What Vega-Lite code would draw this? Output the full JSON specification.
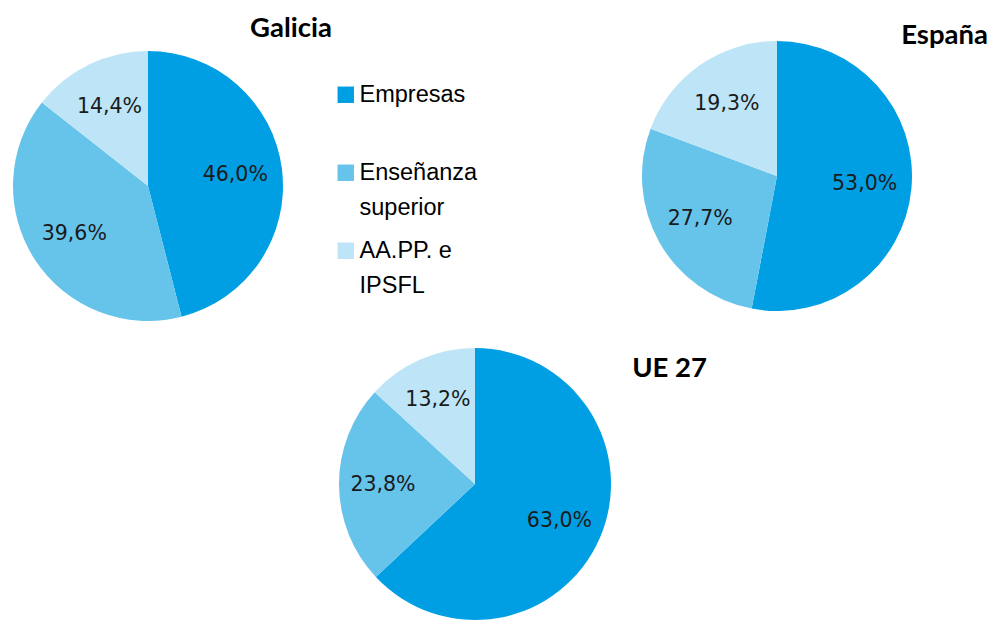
{
  "$schema": "https://vega.github.io/schema/vega-lite/v6.json",
  "background": "white",
  "padding": 0,
  "config": {
    "view": {"stroke": null},
    "locale": {"number": {"decimal": ",", "thousands": ".", "grouping": [3], "currency": ["", " €"]}}
  },
  "data": {
    "values": [
      {"region": "Galicia", "cat": "Empresas", "orden": 1, "value": 0.46},
      {"region": "Galicia", "cat": "Enseñanza superior", "orden": 2, "value": 0.396},
      {"region": "Galicia", "cat": "AA.PP. e IPSFL", "orden": 3, "value": 0.144},
      {"region": "España", "cat": "Empresas", "orden": 1, "value": 0.53},
      {"region": "España", "cat": "Enseñanza superior", "orden": 2, "value": 0.277},
      {"region": "España", "cat": "AA.PP. e IPSFL", "orden": 3, "value": 0.193},
      {"region": "UE 27", "cat": "Empresas", "orden": 1, "value": 0.63},
      {"region": "UE 27", "cat": "Enseñanza superior", "orden": 2, "value": 0.238},
      {"region": "UE 27", "cat": "AA.PP. e IPSFL", "orden": 3, "value": 0.132}
    ]
  },
  "spacing": 0,
  "vconcat": [
    {
      "bounds": "flush",
      "spacing": 345,
      "hconcat": [
        {
          "width": 296,
          "height": 348,
          "title": {"text": "Galicia", "anchor": "end", "frame": "group", "orient": "top", "offset": 0, "baseline": "alphabetic", "dx": 36, "dy": 64, "font": "Lato", "fontWeight": "bold", "fontSize": 27.5, "color": "#000000"},
          "transform": [{"filter": "datum.region == 'Galicia'"}],
          "encoding": {
            "theta": {"field": "value", "type": "quantitative", "stack": true},
            "order": {"field": "orden", "type": "quantitative"}
          },
          "layer": [
            {
              "mark": {"type": "arc", "outerRadius": 135, "yOffset": 12},
              "encoding": {
                "color": {
                  "field": "cat", "type": "nominal",
                  "scale": {"domain": ["Empresas", "Enseñanza superior", "AA.PP. e IPSFL"], "range": ["#009FE3", "#66C3EA", "#BDE5F7"]},
                  "legend": {
                    "orient": "none", "legendX": 334, "legendY": 83, "title": null,
                    "symbolType": "square", "symbolSize": 270, "symbolStrokeWidth": 0,
                    "labelFont": "Liberation Sans", "labelFontSize": 23.5, "labelColor": "#000000",
                    "labelOffset": 2, "labelLimit": 300, "rowPadding": 18, "gridAlign": "all", "padding": 0,
                    "labelBaseline": "alphabetic",
                    "labelExpr": "datum.label == 'Enseñanza superior' ? ['Enseñanza', 'superior'] : datum.label == 'AA.PP. e IPSFL' ? ['AA.PP. e', 'IPSFL'] : datum.label",
                    "encode": {"labels": {"update": {"dy": {"value": 7}, "lineHeight": {"value": 35}}}}
                  }
                }
              }
            },
            {
              "mark": {"type": "text", "radius": 88, "yOffset": 12, "font": "DejaVu Sans", "fontSize": 20.5, "fill": "#1a1a1a"},
              "encoding": {
                "detail": {"field": "cat", "type": "nominal"},
                "text": {"field": "value", "type": "quantitative", "format": ".1%"}
              }
            }
          ]
        },
        {
          "width": 272,
          "height": 348,
          "title": {"text": "España", "anchor": "end", "frame": "group", "orient": "top", "offset": 0, "baseline": "alphabetic", "dx": 75, "dy": 71, "font": "Lato", "fontWeight": "bold", "fontSize": 27.5, "color": "#000000"},
          "transform": [{"filter": "datum.region == 'España'"}],
          "encoding": {
            "theta": {"field": "value", "type": "quantitative", "stack": true},
            "order": {"field": "orden", "type": "quantitative"}
          },
          "layer": [
            {
              "mark": {"type": "arc", "outerRadius": 135, "yOffset": 2},
              "encoding": {
                "color": {"field": "cat", "type": "nominal"}
              }
            },
            {
              "mark": {"type": "text", "radius": 88, "yOffset": 2, "font": "DejaVu Sans", "fontSize": 20.5, "fill": "#1a1a1a"},
              "encoding": {
                "detail": {"field": "cat", "type": "nominal"},
                "text": {"field": "value", "type": "quantitative", "format": ".1%"}
              }
            }
          ]
        }
      ]
    },
    {
      "width": 950,
      "height": 272,
      "title": {"text": "UE 27", "anchor": "end", "frame": "group", "orient": "top", "offset": 0, "baseline": "alphabetic", "dx": -243, "dy": 56, "font": "Lato", "fontWeight": "bold", "fontSize": 27.5, "color": "#000000"},
      "transform": [{"filter": "datum.region == 'UE 27'"}],
      "encoding": {
        "theta": {"field": "value", "type": "quantitative", "stack": true},
        "order": {"field": "orden", "type": "quantitative"}
      },
      "layer": [
        {
          "mark": {"type": "arc", "outerRadius": 136},
          "encoding": {
            "color": {"field": "cat", "type": "nominal"}
          }
        },
        {
          "mark": {"type": "text", "radius": 92, "font": "DejaVu Sans", "fontSize": 20.5, "fill": "#1a1a1a"},
          "encoding": {
            "detail": {"field": "cat", "type": "nominal"},
            "text": {"field": "value", "type": "quantitative", "format": ".1%"}
          }
        }
      ]
    }
  ]
}
